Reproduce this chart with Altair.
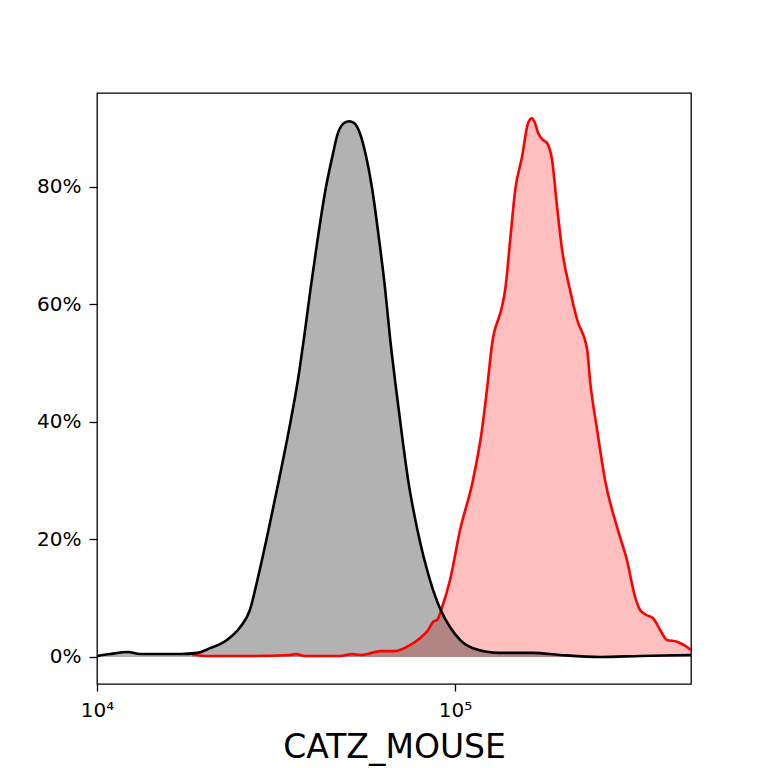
import altair as alt
import pandas as pd

# control (black) histogram, x in fluorescence units, y in percent of max
black_x = [10000, 10864, 12218, 13183, 14997, 17061, 19055, 20701, 23067, 25061,
           26730, 28054, 30130, 32211, 34356, 36392, 38107, 39446,
           41305, 43451, 45394, 47098, 48978, 50582, 52240, 54200, 56494, 58749,
           61376, 63826, 65917, 68234, 70795, 73961, 78524, 85114, 91201, 96828,
           103276, 112202, 133660, 165196, 196336, 254097, 328852, 456037]
black_y = [0.17, 0.5, 0.85, 0.5, 0.5, 0.5, 0.7, 1.5, 2.9, 5.0,
           8.0, 13.1, 21.6, 30.1, 38.6, 47.1, 55.6, 62.5,
           71.0, 79.5, 85.1, 89.2, 90.9, 91.2, 90.9, 89.2, 85.1, 79.5,
           71.0, 62.5, 54.0, 46.3, 38.6, 30.1, 21.6, 13.1, 8.0, 5.1,
           2.9, 1.5, 0.7, 0.7, 0.34, 0.0, 0.17, 0.34]

# stained (red) histogram
red_x = [18408, 20045, 26730, 34594, 35975, 38107, 47753, 51523, 54325, 58614,
         61802, 67920, 74817, 79799, 84140, 86896, 89125, 92045, 96828, 103276,
         112202, 118850, 123595, 126765, 135207, 138038, 142561, 147231, 153815,
         159956, 164059, 167109, 170608, 176198, 180717, 186638, 192752, 199067,
         209411, 219280, 233884, 238220, 249459, 262422, 285102, 301995, 318420,
         328852, 343558, 357273, 374111, 390841, 416869, 444631, 456037]
red_y = [0.5, 0.17, 0.17, 0.34, 0.5, 0.17, 0.17, 0.5, 0.34, 0.7,
         1.0, 1.0, 2.0, 3.2, 4.6, 6.0, 6.3, 8.5, 13.1, 21.6,
         30.1, 38.6, 47.1, 53.1, 59.6, 62.5, 71.0, 79.5, 85.1,
         90.9, 91.7, 90.9, 89.2, 88.0, 87.5, 84.6, 76.6, 69.3,
         62.5, 57.4, 52.3, 47.1, 38.6, 30.1, 21.6, 16.5, 10.2,
         8.0, 7.1, 6.6, 4.6, 2.9, 2.6, 1.7, 1.2]

x_domain = [10000, 456037]
y_domain = [-4.6, 96.0]
y_ticks = [0, 20, 40, 60, 80]
x_ticks = [10000, 100000]
x_title = "CATZ_MOUSE"

black_df = pd.DataFrame({"x": black_x, "y": black_y})
red_df = pd.DataFrame({"x": red_x, "y": red_y})

FONT = "DejaVu Sans"

x_enc = alt.X("x:Q", scale=alt.Scale(type="log", domain=x_domain, nice=False),
              axis=alt.Axis(values=x_ticks, title=x_title,
                            labelExpr="datum.value == 10000 ? '10⁴' : '10⁵'",
                            labelFlush=False, labelAlign="center",
                            grid=False, domain=False, tickSize=7, tickWidth=1.3,
                            tickColor="black", labelColor="black", labelFontSize=20,
                            labelFont=FONT, labelPadding=9, titleFont=FONT,
                            titleFontSize=33, titleFontWeight="normal",
                            titleColor="black", titleBaseline="alphabetic",
                            titleY=73))
y_enc = alt.Y("y:Q", scale=alt.Scale(domain=y_domain, nice=False, zero=False),
              axis=alt.Axis(values=y_ticks, title=None,
                            labelExpr="datum.value + '%'",
                            grid=False, domain=False, tickSize=8, tickWidth=1.3,
                            tickColor="black", labelColor="black", labelFontSize=20,
                            labelFont=FONT, labelPadding=8))

red_area = alt.Chart(red_df).mark_area(color="red", opacity=0.25, interpolate="monotone",
                                       clip=True).encode(x=x_enc, y=y_enc, y2=alt.datum(0))
black_area = alt.Chart(black_df).mark_area(color="black", opacity=0.3, interpolate="monotone",
                                           clip=True).encode(x=x_enc, y=y_enc, y2=alt.datum(0))
red_line = alt.Chart(red_df).mark_line(color="red", strokeWidth=2.6, interpolate="monotone",
                                       clip=True).encode(x=x_enc, y=y_enc)
black_line = alt.Chart(black_df).mark_line(color="black", strokeWidth=2.6, interpolate="monotone",
                                           clip=True).encode(x=x_enc, y=y_enc)

chart = alt.layer(red_area, black_area, red_line, black_line).properties(
    width=594, height=591,
    autosize=alt.AutoSizeParams(type="none"),
    padding={"left": 89, "top": 85, "right": 69, "bottom": 82},
    background="white",
).configure_view(stroke="black", strokeWidth=1.3)

chart.save("out.html", embed_options={"renderer": "svg", "actions": False})
